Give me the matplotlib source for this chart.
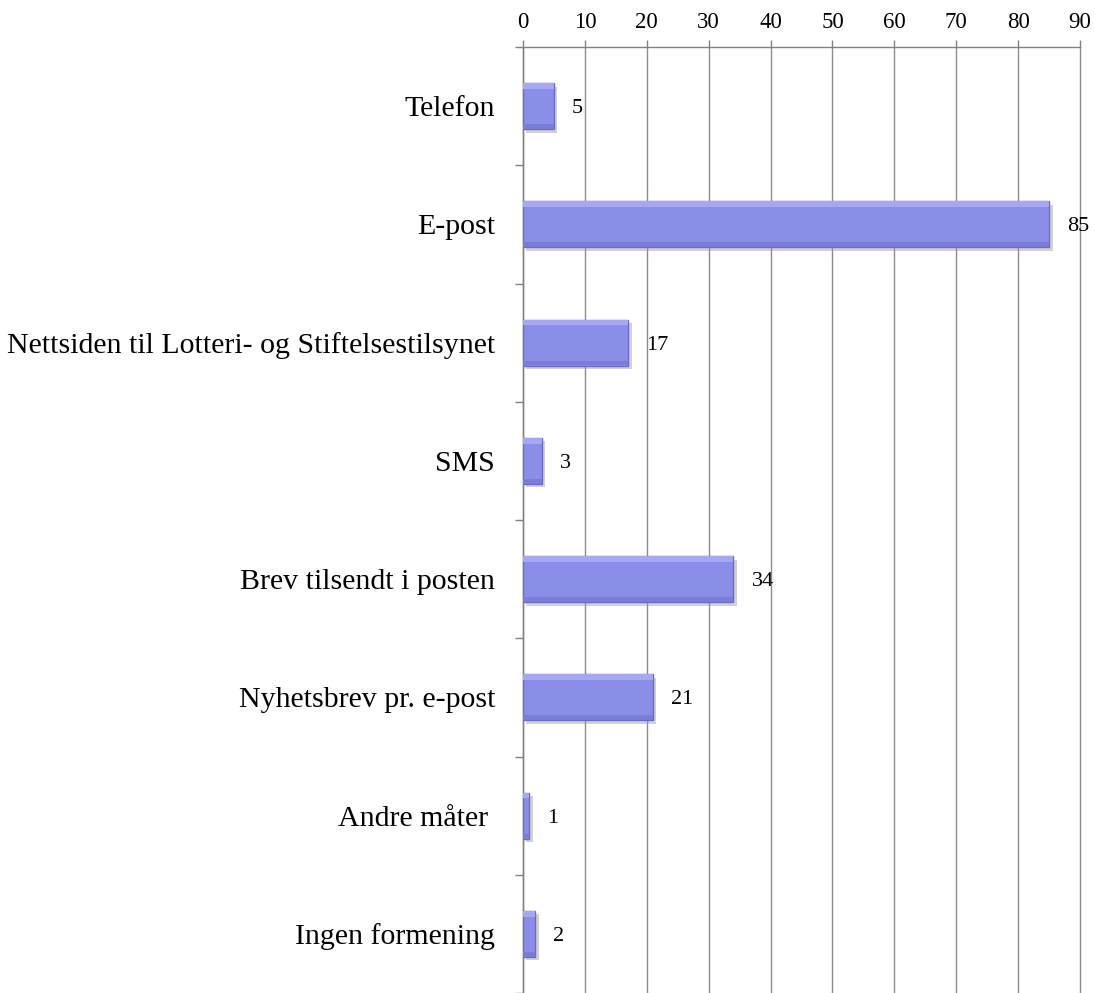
import matplotlib
matplotlib.use("Agg")
import matplotlib.pyplot as plt
from matplotlib import patheffects as pe
import numpy as np

categories = ["Telefon", "E-post", "Nettsiden til Lotteri- og Stiftelsestilsynet", "SMS",
              "Brev tilsendt i posten", "Nyhetsbrev pr. e-post", "Andre måter ", "Ingen formening"]
values = [5, 85, 17, 3, 34, 21, 1, 2]
xticks = [0, 10, 20, 30, 40, 50, 60, 70, 80, 90]

plt.rcParams['font.family'] = ['Liberation Serif', 'DejaVu Serif']

fig = plt.figure(figsize=(10.95, 9.93), dpi=100)
ax = fig.add_axes([523/1095, 0.0, (1080-523)/1095, (993-47)/993])

n = len(categories)
y = np.arange(n)
bars = ax.barh(y, values, height=0.39, color="#8b8ee9", edgecolor="#6a6cc4", linewidth=1.0,
               zorder=3)
for b in bars:
    b.set_path_effects([pe.SimplePatchShadow(offset=(2.5, -2.5), shadow_rgbFace="#999999", alpha=0.45),
                        pe.Normal()])
# subtle bevel highlight (top) and darker bottom
ax.barh(y - 0.39/2 + 0.025, values, height=0.05, color="#a6a8f3", linewidth=0, zorder=4)
ax.barh(y + 0.39/2 - 0.022, values, height=0.04, color="#7a7dd6", linewidth=0, zorder=4)

for yi, v in zip(y, values):
    ax.annotate(str(v), xy=(v, yi), xytext=(13, 0), textcoords="offset points",
                ha="left", va="center_baseline", fontsize=16, color="black", zorder=5)

ax.set_xlim(0, 90)
ax.set_ylim(n - 0.5, -0.5)
ax.set_xticks(xticks)
ax.xaxis.tick_top()
ax.tick_params(axis="x", which="major", direction="out", length=5, width=1, color="#808080",
               labelsize=16.5, pad=5)
ax.set_yticks(y)
ax.set_yticklabels(categories)
ax.set_yticks(np.arange(n + 1) - 0.5, minor=True)
ax.tick_params(axis="y", which="major", length=0, labelsize=21.5, pad=20)
ax.tick_params(axis="y", which="minor", direction="out", length=6, width=1, color="#808080")
ax.grid(axis="x", color="#8c8c8c", linewidth=1.0, zorder=0)
for gl in ax.get_xgridlines():
    gl.set_clip_on(False)
ax.set_axisbelow(True)
for s in ["right", "bottom"]:
    ax.spines[s].set_visible(False)
for s in ["top", "left"]:
    ax.spines[s].set_color("#808080")
    ax.spines[s].set_linewidth(1.0)

fig.savefig("out.png", dpi=100)
